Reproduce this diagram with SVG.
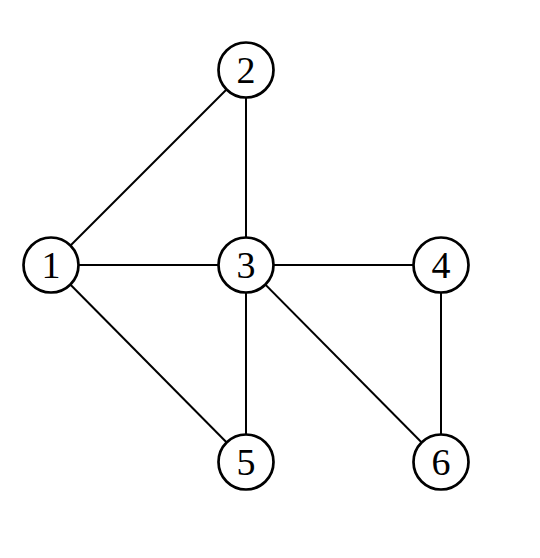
<svg xmlns="http://www.w3.org/2000/svg" width="540" height="558" viewBox="0 0 540 558">
<style>
.n circle{fill:#fff;stroke:#000;stroke-width:2.7}
.n text{font-family:"Liberation Serif","DejaVu Serif",serif;font-size:38px;text-anchor:middle;fill:#000}
#edges line{stroke:#000;stroke-width:2}
</style>
<rect width="540" height="558" fill="#fff"/>
<g id="edges">
<line x1="51" y1="265" x2="246" y2="70"/>
<line x1="246" y1="70" x2="246" y2="265"/>
<line x1="51" y1="265" x2="246" y2="265"/>
<line x1="246" y1="265" x2="441" y2="265"/>
<line x1="51" y1="265" x2="246" y2="462"/>
<line x1="246" y1="265" x2="246" y2="462"/>
<line x1="246" y1="265" x2="441" y2="462"/>
<line x1="441" y1="265" x2="441" y2="462"/>
</g>
<g id="n1" class="n"><circle cx="51" cy="265" r="27.5"/><text x="51" y="278">1</text></g>
<g id="n2" class="n"><circle cx="246" cy="70" r="27.5"/><text x="246" y="83">2</text></g>
<g id="n3" class="n"><circle cx="246" cy="265" r="27.5"/><text x="246" y="278">3</text></g>
<g id="n4" class="n"><circle cx="441" cy="265" r="27.5"/><text x="441" y="278">4</text></g>
<g id="n5" class="n"><circle cx="246" cy="462" r="27.5"/><text x="246" y="475">5</text></g>
<g id="n6" class="n"><circle cx="441" cy="462" r="27.5"/><text x="441" y="475">6</text></g>
</svg>
